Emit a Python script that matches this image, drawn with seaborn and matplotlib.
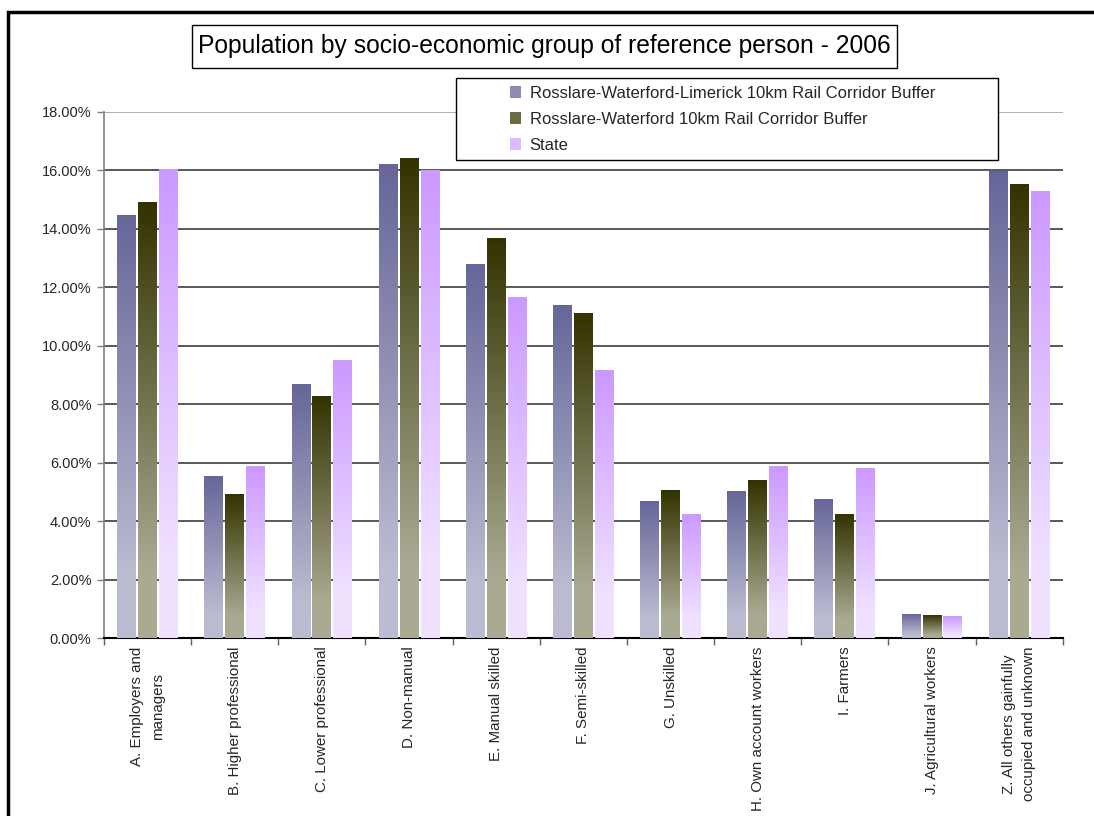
import numpy as np
import pandas as pd
import matplotlib
matplotlib.use("Agg")
import matplotlib.pyplot as plt
from matplotlib.patches import Rectangle, Patch
from matplotlib.ticker import PercentFormatter, FixedLocator
import seaborn as sns

categories = [
    "A. Employers and\nmanagers",
    "B. Higher professional",
    "C. Lower professional",
    "D. Non-manual",
    "E. Manual skilled",
    "F. Semi-skilled",
    "G. Unskilled",
    "H. Own account workers",
    "I. Farmers",
    "J. Agricultural workers",
    "Z. All others gainfully\noccupied and unknown",
]
series_names = [
    "Rosslare-Waterford-Limerick 10km Rail Corridor Buffer",
    "Rosslare-Waterford 10km Rail Corridor Buffer",
    "State",
]
rwl_buffer = [14.44, 5.51, 8.66, 16.18, 12.76, 11.36, 4.66, 5.00, 4.73, 0.80, 15.94]
rw_buffer = [14.88, 4.90, 8.25, 16.39, 13.65, 11.09, 5.04, 5.38, 4.22, 0.76, 15.50]
state = [16.01, 5.86, 9.48, 15.97, 11.63, 9.14, 4.22, 5.86, 5.79, 0.73, 15.26]

# top (dark) and bottom (light) colours of each series' vertical gradient
grad_top = ["#666699", "#333300", "#CC99FF"]
grad_bottom = ["#BBBBD1", "#AAAA93", "#F0E2FF"]

df = pd.DataFrame({
    "group": categories * 3,
    "series": np.repeat(series_names, len(categories)),
    "share": rwl_buffer + rw_buffer + state,
})

W, H = 1094, 816
sns.set_style("white")
plt.rcParams["font.family"] = ["Liberation Sans", "DejaVu Sans"]
fig = plt.figure(figsize=(W / 100, H / 100), dpi=100)
ax = fig.add_axes([104 / W, 1 - 638.3 / H, (1062.7 - 104) / W, (638.3 - 111.5) / H])

sns.barplot(data=df, x="group", y="share", hue="series", order=categories,
            hue_order=series_names, palette=grad_top, width=0.72, gap=0.1,
            legend=False, ax=ax, zorder=2)


def gradient_image(top, bottom, n=256):
    c_top = np.array(matplotlib.colors.to_rgb(top))
    c_bot = np.array(matplotlib.colors.to_rgb(bottom))
    t = np.linspace(0, 1, n)
    t = np.clip(t / 0.85, 0, 1)[:, None]
    rgb = c_top * (1 - t) + c_bot * t
    return rgb[:, None, :]


# repaint every seaborn bar with a top-to-bottom gradient of its series colour
for i, container in enumerate(ax.containers):
    img = gradient_image(grad_top[i], grad_bottom[i])
    for bar in container:
        x0, y0 = bar.get_x(), bar.get_y()
        w, h = bar.get_width(), bar.get_height()
        ax.imshow(img, extent=[x0, x0 + w, y0, y0 + h], aspect="auto",
                  origin="upper", zorder=3, interpolation="bilinear")
        bar.set_visible(False)

ax.set_xlim(-0.5, len(categories) - 0.5)
ax.set_ylim(0, 18)
ax.yaxis.set_major_locator(FixedLocator(np.arange(0, 18.1, 2)))
ax.yaxis.set_major_formatter(PercentFormatter(xmax=100, decimals=2))
ax.grid(axis="y", color="#2b2b2b", linewidth=1.1, zorder=1)
ax.set_axisbelow(True)
ax.get_ygridlines()[-1].set_color("#9a9a9a")

for side in ["top", "right"]:
    ax.spines[side].set_visible(False)
ax.spines["left"].set_color("#808080")
ax.spines["left"].set_linewidth(1.2)
ax.spines["bottom"].set_color("black")
ax.spines["bottom"].set_linewidth(1.5)

ax.tick_params(axis="y", which="major", direction="out", length=5, width=1,
               color="#808080", labelsize=10.5, pad=4, left=True)
ax.set_xticks(range(len(categories)))
ax.set_xticklabels(categories, rotation=90, fontsize=10.9, va="top",
                   ha="center", multialignment="center", linespacing=1.6)
ax.tick_params(axis="x", which="major", length=0, pad=6)
ax.set_xticks(np.arange(-0.5, len(categories), 1), minor=True)
ax.tick_params(axis="x", which="minor", direction="out", length=5, width=1,
               color="#606060", bottom=True)
ax.set_xlabel("")
ax.set_ylabel("")

# title box
fig.patches.append(Rectangle((192 / W, 1 - 68 / H), (897 - 192) / W, 43 / H,
                             transform=fig.transFigure, fill=False,
                             edgecolor="black", linewidth=1.0))
fig.text(544.5 / W, 1 - 46.5 / H,
         "Population by socio-economic group of reference person - 2006",
         ha="center", va="center", fontsize=17.7, color="black")

# legend box
fig.patches.append(Rectangle((456 / W, 1 - 160 / H), (998 - 456) / W, 82 / H,
                             transform=fig.transFigure, facecolor="white",
                             edgecolor="black", linewidth=1.0, zorder=5))
mid = [gradient_image(t, b)[100, 0] for t, b in zip(grad_top, grad_bottom)]
handles = [Patch(facecolor=c, edgecolor="none") for c in mid]
leg = fig.legend(handles, series_names, loc="upper left",
                 bbox_to_anchor=(497 / W, 1 - 72.5 / H), frameon=False,
                 fontsize=12.0, handlelength=0.65, handleheight=0.65,
                 handletextpad=0.5, labelspacing=0.66, borderpad=0.3)
leg.set_zorder(6)

# outer chart border
fig.patches.append(Rectangle((8 / W, -0.05), 1.2, 1.05 - 11.5 / H,
                             transform=fig.transFigure, fill=False,
                             edgecolor="black", linewidth=2.5))

fig.savefig("out.png", dpi=100)
